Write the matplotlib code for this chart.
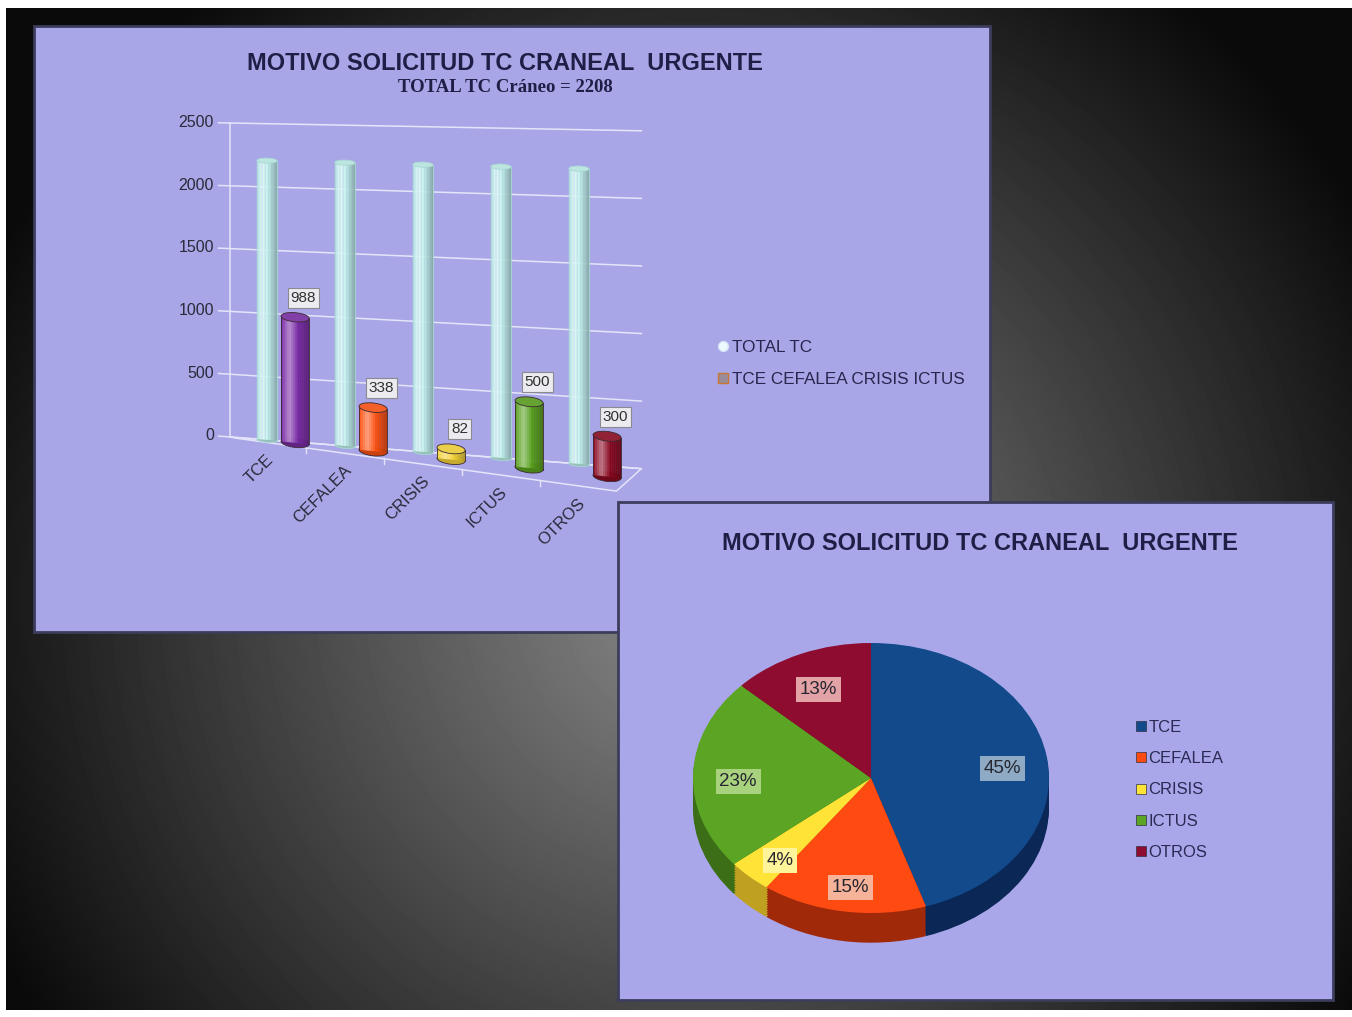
import numpy as np
import matplotlib
matplotlib.use('Agg')
import matplotlib.pyplot as plt
from matplotlib import transforms as mtransforms
from matplotlib.patches import Rectangle, Ellipse, Polygon
from matplotlib.lines import Line2D
from matplotlib.colors import to_rgb

plt.rcParams['font.family'] = ['Liberation Sans', 'DejaVu Sans']

# datos
categorias = ['TCE', 'CEFALEA', 'CRISIS', 'ICTUS', 'OTROS']
total_tc = [2208, 2208, 2208, 2208, 2208]
casos = [988, 338, 82, 500, 300]
pie_pct = [45, 15, 4, 23, 13]
y_ticks = [0, 500, 1000, 1500, 2000, 2500]

titulo = 'MOTIVO SOLICITUD TC CRANEAL  URGENTE'
subtitulo = 'TOTAL TC Cráneo = 2208'
serie_total = 'TOTAL TC'
serie_casos = 'TCE CEFALEA CRISIS ICTUS'

bar_colors = ['#7B2CA6', '#FF5212', '#F6D53A', '#5AA21E', '#8C0A22']
pie_colors = ['#124A8C', '#FF4B12', '#FFE437', '#5CA424', '#8E0C30']
pie_sides = ['#0A2756', '#A0290A', '#BFA020', '#3B6E16', '#5A0618']
pct_box = ['#8EAAC4', '#F7B39A', '#FFF49A', '#A9D27E', '#E2A2A6']

W, H = 1352, 1017
fig = plt.figure(figsize=(W / 100, H / 100), dpi=100, facecolor='white')

# fondo de la diapositiva
bg = fig.add_axes([0, 0, 1, 1])
yy, xx = np.mgrid[8:1010:4, 6:W:4]
dist = np.hypot(xx - 690, yy - 600)
grad = np.clip(0.53 - 0.53 * dist / 840, 0.04, 1)
bg.imshow(grad, cmap='gray', vmin=0, vmax=1, extent=(6, W, 1010, 8),
          aspect='auto', interpolation='bilinear')
bg.set_xlim(0, W)
bg.set_ylim(H, 0)
bg.axis('off')
bg.add_patch(Rectangle((34, 26), 956, 606, facecolor='#A8A6E6',
                       edgecolor='#3C3C5C', lw=2))
bg.add_patch(Rectangle((618, 502), 715, 498, facecolor='#A9A7EA',
                       edgecolor='#3C3C5C', lw=2))

# ---- grafico de cilindros ----
px_x, px_v = 78.0, 0.1256
x0, y0 = 267, 437
L, R, T, B = 150, 700, 100, 560
ax1 = fig.add_axes([L / W, 1 - B / H, (R - L) / W, (B - T) / H])
ax1.set_xlim((L - x0) / px_x, (R - x0) / px_x)
ax1.set_ylim((y0 - B) / px_v, (y0 - T) / px_v)
ax1.axis('off')


class Perspectiva(mtransforms.Transform):
    input_dims = output_dims = 2

    def transform_non_affine(self, values):
        values = np.asarray(values, dtype=float)
        c, v = values[:, 0], values[:, 1]
        slope = 0.077 - 0.0000232 * v
        return np.column_stack([c, v - slope * (px_x * c + x0 - 230) / px_v])


def depth(z):
    shear = mtransforms.Affine2D(np.array([[1, 0, 0], [-18.0 * z, 1, 0], [0, 0, 1]]))
    return shear + Perspectiva() + ax1.transData


def cilindro(ax, tr, c, v, w, e, color, edge, n=14, z=3):
    base = np.array(to_rgb(color))
    ax.add_patch(Ellipse((c, 0), w, e, facecolor=base * 0.8, edgecolor=edge,
                         lw=0.6, transform=tr, zorder=z - 0.1))
    for k in range(n):
        t = (k + 0.5) / n
        luz = max(0, 1 - abs(t - 0.3) / 0.3)
        col = base + (1 - base) * 0.45 * luz
        col = col * (1 - 0.3 * max(0, t - 0.55) / 0.45)
        ax.add_patch(Rectangle((c - w / 2 + k * w / n, 0), w / n * 1.05, v,
                               facecolor=np.clip(col, 0, 1), edgecolor='none',
                               transform=tr, zorder=z))
    for s in (-1, 1):
        ax.plot([c + s * w / 2, c + s * w / 2], [0, v], color=edge, lw=0.6,
                transform=tr, zorder=z + 0.1)
    top = np.clip(base * 0.85 + 0.1, 0, 1)
    ax.add_patch(Ellipse((c, v), w, e, facecolor=top, edgecolor=edge,
                         lw=0.6, transform=tr, zorder=z + 0.2))


# pared del fondo
for v in y_ticks:
    ax1.plot([-0.62, 4.8], [v, v], color='#E4E4FA', lw=1.1, transform=depth(0), zorder=1)
    ax1.text(-0.68, v, str(v), ha='right', va='center', fontsize=11.5,
             color='#2A2A3A', transform=depth(0))
ax1.plot([-0.47, -0.47], [0, 2500], color='#E4E4FA', lw=1.1, transform=depth(0), zorder=1)

# suelo
p = [depth(0).transform((-0.47, 0)), depth(0).transform((4.8, 0)),
     depth(2).transform((4.48, -20)), depth(2).transform((-0.35, -20))]
ax1.add_patch(Polygon(p, closed=True, fill=False, edgecolor='#E4E4FA', lw=1.1,
                      transform=mtransforms.IdentityTransform(), zorder=1))
for c in [0.5, 1.5, 2.5, 3.5]:
    ax1.plot([c, c], [-20, -60], color='#E4E4FA', lw=1, transform=depth(2), zorder=1)

# cilindros
for i, v in enumerate(total_tc):
    cilindro(ax1, depth(0), i, v, 0.26, 40, '#BFEFEA', '#A8D8D4', z=2)
for i, v in enumerate(casos):
    cilindro(ax1, depth(1), i + 0.36, v, 0.36, 72, bar_colors[i], '#3A2A30', z=4)
    ax1.annotate(str(v), (i + 0.36, v), xycoords=depth(1), textcoords='offset points',
                 xytext=(6, 14), ha='center', va='center', fontsize=11, color='#303030',
                 bbox=dict(boxstyle='square,pad=0.2', facecolor='#ECECF0',
                           edgecolor='#8A8A90', lw=0.8), zorder=6)

# etiquetas de categorias
for i, cat in enumerate(categorias):
    ax1.text(i + 0.05, -130, cat, rotation=45, rotation_mode='anchor', ha='right',
             va='center', fontsize=12, color='#2A2A3A', transform=depth(2))

h1 = [Line2D([], [], marker='o', ls='', markersize=7, markerfacecolor='#EEF8FF',
             markeredgecolor='#D8E8F8'),
      Line2D([], [], marker='s', ls='', markersize=7, markerfacecolor='#9A8C9A',
             markeredgecolor='#C87830')]
fig.legend(h1, [serie_total, serie_casos], loc='upper left',
           bbox_to_anchor=(718 / W, 1 - 340 / H), frameon=False, fontsize=12.3,
           labelcolor='#26264E', handlelength=0.6, handletextpad=0.2,
           labelspacing=1.0, borderaxespad=0, borderpad=0)

fig.text(505 / W, 1 - 63 / H, titulo, ha='center', va='center', fontsize=17,
         fontweight='bold', color='#1E1E46')
fig.text(505 / W, 1 - 87 / H, subtitulo, ha='center', va='center', fontsize=13.5,
         fontweight='bold', family='Liberation Serif', color='#1E1E46')

# ---- grafico de sectores ----
cx, cy, rx, ry = 871, 778, 178, 135
ax2 = fig.add_axes([(cx - 1.25 * rx) / W, 1 - (cy + 1.5 * ry) / H, 2.5 * rx / W, 2.75 * ry / H])
grosor = 0.22
n = 12
for k in range(n, 0, -1):
    ax2.pie(pie_pct, colors=pie_sides, startangle=90, counterclock=False,
            center=(0, -grosor * k / n), wedgeprops=dict(linewidth=0))
wedges, texts, autotexts = ax2.pie(
    pie_pct, colors=pie_colors, startangle=90, counterclock=False,
    autopct='%d%%', pctdistance=0.77, wedgeprops=dict(linewidth=0),
    textprops=dict(fontsize=13.5, color='#262630'))
for t, fc in zip(autotexts, pct_box):
    t.set_bbox(dict(boxstyle='square,pad=0.2', facecolor=fc, edgecolor='none'))
    x, y = t.get_position()
    t.set_position((x * 0.97, y - 0.05))
ax2.set_aspect('auto')
ax2.set_xlim(-1.25, 1.25)
ax2.set_ylim(-1.5, 1.25)
ax2.axis('off')

h2 = [Line2D([], [], marker='s', ls='', markersize=6.5, markerfacecolor=c,
             markeredgecolor='#303040', markeredgewidth=0.5) for c in pie_colors]
fig.legend(h2, categorias, loc='upper left', bbox_to_anchor=(1136 / W, 1 - 720 / H),
           frameon=False, fontsize=12, labelcolor='#2A2A55', handlelength=0.6,
           handletextpad=0.15, labelspacing=0.97, borderpad=0, borderaxespad=0)

fig.text(980 / W, 1 - 543 / H, titulo, ha='center', va='center', fontsize=17,
         fontweight='bold', color='#1E1E46')

fig.savefig('out.png', dpi=100)
